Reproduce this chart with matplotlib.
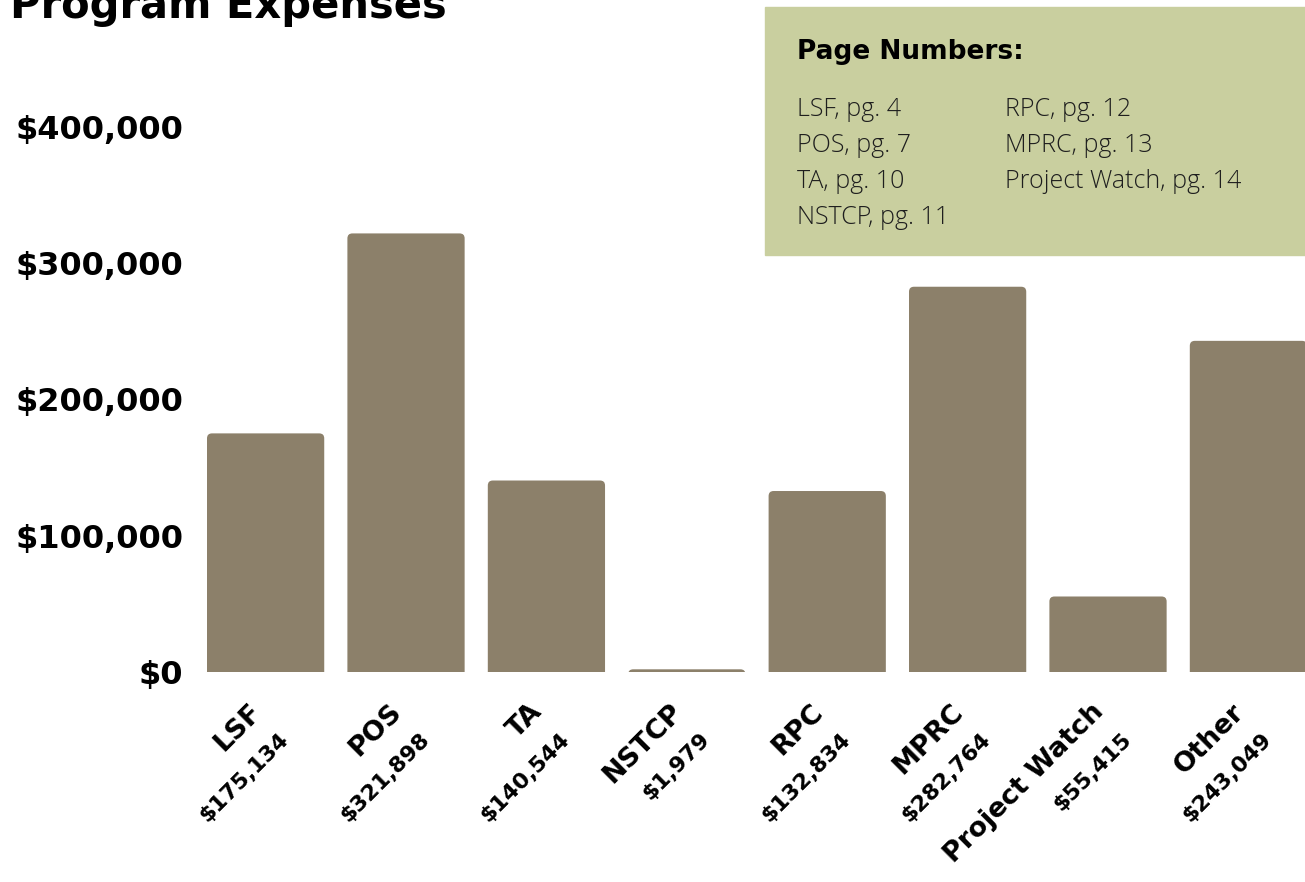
"""
Program Expenses bar chart with a page-number key box.
"""
import matplotlib.pyplot as plt
from matplotlib.transforms import offset_copy
from matplotlib.patches import Rectangle, FancyBboxPatch

programs = ["LSF", "POS", "TA", "NSTCP", "RPC", "MPRC", "Project Watch", "Other"]
expenses = [175134, 321898, 140544, 1979, 132834, 282764, 55415, 243049]
yticks = [0, 100000, 200000, 300000, 400000]
key_left = ["LSF, pg. 4", "POS, pg. 7", "TA, pg. 10", "NSTCP, pg. 11"]
key_right = ["RPC, pg. 12", "MPRC, pg. 13", "Project Watch, pg. 14"]

BAR = "#8c806a"
KEY_BG = "#c9cf9f"
BOLD = "DejaVu Sans"
W, H = 1305, 882

fig = plt.figure(figsize=(W / 100, H / 100), dpi=100)
# axes placed in pixel terms: zero line at y=672px from top, first bar edge at x=207px
pitch = 140.4
px_per_100k = 136.25
width = 0.835
x0 = 207
x_left = -width / 2
x_right = x_left + (W - x0) / pitch
y_top = 672 / px_per_100k * 100000
ax = fig.add_axes([x0 / W, (H - 672) / H, (W - x0) / W, 672 / H])

xs = list(range(len(programs)))
bars = ax.bar(xs, expenses, width=width, color=BAR, zorder=2)
ax.set_xlim(x_left, x_right)
ax.set_ylim(0, y_top)

# swap the plain rectangles for ones with slightly rounded top corners
r_px = 5
aspect = (100000 / px_per_100k) * pitch
below = 10000
for b in bars:
    b.set_visible(False)
    ax.add_patch(FancyBboxPatch((b.get_x(), -below), b.get_width(), b.get_height() + below,
                                boxstyle=f"round,pad=0,rounding_size={r_px / pitch}",
                                mutation_aspect=aspect, color=BAR, lw=0, zorder=2))

for s in ax.spines.values():
    s.set_visible(False)
ax.set_xticks([])
ax.set_yticks(yticks)
ax.set_yticklabels([f"${v:,}" for v in yticks], fontsize=23, fontweight="bold",
                   fontfamily=BOLD)
ax.tick_params(axis="y", length=0, pad=17)

# two-line rotated category labels (name, then amount)
tr = ax.get_xaxis_transform()
for x, name, val in zip(xs, programs, expenses):
    ax.text(x, 0, name, transform=offset_copy(tr, fig=fig, x=-8, y=-36, units="dots"),
            rotation=45, rotation_mode="anchor", ha="right", va="center",
            fontsize=19.5, fontweight="bold", fontfamily=BOLD, clip_on=False)
    ax.text(x, 0, f"${val:,}", transform=offset_copy(tr, fig=fig, x=20, y=-64, units="dots"),
            rotation=45, rotation_mode="anchor", ha="right", va="center",
            fontsize=16, fontweight="bold", fontfamily=BOLD, clip_on=False)

# title (cut off at the top edge like the reference)
fig.text(10 / W, (H - 18) / H, "Program Expenses", fontsize=30, fontweight="bold",
         fontfamily=BOLD, ha="left", va="baseline")

# page-number key box
fig.patches.append(Rectangle((765 / W, (H - 255) / H), (W - 765) / W, 248 / H,
                             transform=fig.transFigure, color=KEY_BG, zorder=5))
fig.text(797 / W, (H - 52) / H, "Page Numbers:", fontsize=19, fontweight="bold",
         fontfamily=BOLD, ha="left", va="center", zorder=6)
for i, t in enumerate(key_left):
    fig.text(797 / W, (H - 110 - 36 * i) / H, t, fontsize=18, fontweight="light",
             fontfamily="Open Sans", color="#1e1e1e", ha="left", va="center", zorder=6)
for i, t in enumerate(key_right):
    fig.text(1005 / W, (H - 110 - 36 * i) / H, t, fontsize=18, fontweight="light",
             fontfamily="Open Sans", color="#1e1e1e", ha="left", va="center", zorder=6)

fig.savefig("out.png", dpi=100)
